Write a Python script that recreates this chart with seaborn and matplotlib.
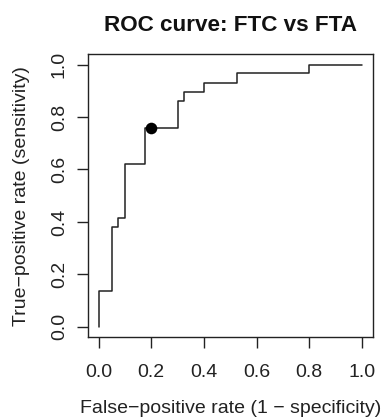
import pandas as pd
import seaborn as sns
import matplotlib
matplotlib.use('Agg')
import matplotlib.pyplot as plt

# ROC curve vertices (FTC vs FTA)
fpr = [0.0, 0.0, 0.05, 0.05, 0.075, 0.075, 0.1, 0.1, 0.175, 0.175, 0.3,
       0.3, 0.325, 0.325, 0.4, 0.4, 0.525, 0.525, 0.8, 0.8, 1.0]
tpr = [0.0, 0.138, 0.138, 0.379, 0.379, 0.414, 0.414, 0.621, 0.621, 0.759,
       0.759, 0.862, 0.862, 0.897, 0.897, 0.931, 0.931, 0.966, 0.966, 1.0, 1.0]

# chosen cutoff
cut_fpr = [0.2]
cut_tpr = [0.759]

ticks = [0.0, 0.2, 0.4, 0.6, 0.8, 1.0]
tick_labels = ['0.0', '0.2', '0.4', '0.6', '0.8', '1.0']

df = pd.DataFrame({'fpr': fpr, 'tpr': tpr})
cut = pd.DataFrame({'fpr': cut_fpr, 'tpr': cut_tpr})

sns.set_style('ticks')
plt.rcParams['font.family'] = ['Liberation Sans', 'DejaVu Sans']

fig = plt.figure(figsize=(3.83, 4.2), dpi=100)
ax = fig.add_axes([0.2298, 0.1969, 0.7428, 0.6745])

sns.lineplot(x='fpr', y='tpr', data=df, sort=False, estimator=None,
             color='#222222', linewidth=1.1, ax=ax)
sns.scatterplot(x='fpr', y='tpr', data=cut, color='black', s=70,
                edgecolor='black', linewidth=0, zorder=5, ax=ax)

ax.set_xlim(-0.04, 1.04)
ax.set_ylim(-0.04, 1.04)
ax.set_xticks(ticks)
ax.set_xticklabels(tick_labels)
ax.set_yticks(ticks)
ax.set_yticklabels(tick_labels, rotation=90, va='center')

for s in ax.spines.values():
    s.set_visible(True)
    s.set_color('#222222')
    s.set_linewidth(1.0)

ax.tick_params(direction='out', length=8, width=1.0, color='#222222',
               labelsize=14, labelcolor='#222222')
ax.tick_params(axis='x', pad=11)
ax.tick_params(axis='y', pad=6.5)

ax.set_title('ROC curve: FTC vs FTA', fontsize=16.2, fontweight='bold',
             color='#111111', pad=16.5)
ax.set_xlabel('False\u2212positive rate (1 \u2212 specificity)', fontsize=14,
              color='#222222', labelpad=14)
ax.set_ylabel('True\u2212positive rate (sensitivity)', fontsize=14,
              color='#222222', labelpad=15)

fig.savefig('out.png', dpi=100)
